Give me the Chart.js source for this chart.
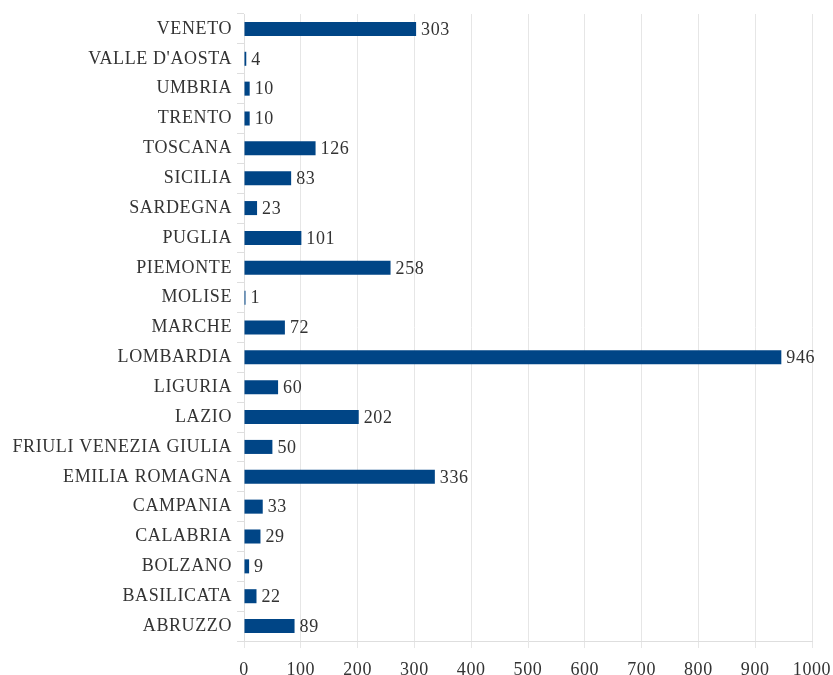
<!DOCTYPE html>
<html lang="it">
<head>
  <meta charset="UTF-8">
  <title>Regioni</title>
  <script src="https://cdn.jsdelivr.net/npm/chart.js"></script>
  <style>
    body { margin: 0; background: #fff; }
    canvas { display: block; }
  </style>
</head>
<body>
  <canvas id="chart" width="833" height="675"></canvas>
  <script>
    const regions = ['VENETO', "VALLE D'AOSTA", 'UMBRIA', 'TRENTO', 'TOSCANA', 'SICILIA', 'SARDEGNA',
      'PUGLIA', 'PIEMONTE', 'MOLISE', 'MARCHE', 'LOMBARDIA', 'LIGURIA', 'LAZIO',
      'FRIULI VENEZIA GIULIA', 'EMILIA ROMAGNA', 'CAMPANIA', 'CALABRIA', 'BOLZANO', 'BASILICATA', 'ABRUZZO'];
    const counts = [303, 4, 10, 10, 126, 83, 23, 101, 258, 1, 72, 946, 60, 202, 50, 336, 33, 29, 9, 22, 89];
    const xTicks = [0, 100, 200, 300, 400, 500, 600, 700, 800, 900, 1000];

    const FONT = { family: '"Liberation Serif", "Times New Roman", serif', size: 18 };
    const TEXT = '#333';

    // slightly wider lettering, like the original rendering
    const spacing = {
      id: 'spacing',
      beforeDraw(chart) { chart.ctx.letterSpacing = '0.6px'; }
    };

    // value next to the end of each bar
    const valueLabels = {
      id: 'valueLabels',
      afterDatasetsDraw(chart) {
        const ctx = chart.ctx;
        const meta = chart.getDatasetMeta(0);
        ctx.save();
        ctx.font = FONT.size + 'px ' + FONT.family;
        ctx.fillStyle = TEXT;
        ctx.textAlign = 'left';
        ctx.textBaseline = 'middle';
        meta.data.forEach((bar, i) => {
          ctx.fillText(String(counts[i]), bar.x + 5, bar.y + 1);
        });
        ctx.restore();
      }
    };

    new Chart(document.getElementById('chart'), {
      type: 'bar',
      data: {
        labels: regions,
        datasets: [{
          data: counts,
          backgroundColor: '#004586',
          barPercentage: 0.47,
          categoryPercentage: 1,
          minBarLength: 1.5
        }]
      },
      options: {
        indexAxis: 'y',
        responsive: false,
        animation: false,
        layout: { padding: { top: 14, right: 21, left: 0, bottom: 0 } },
        plugins: { legend: { display: false }, tooltip: { enabled: false } },
        scales: {
          x: {
            min: 0,
            max: 1000,
            afterBuildTicks: s => { s.ticks = xTicks.map(v => ({ value: v })); },
            afterFit: s => { s.height = 34; s.paddingLeft = 0; s.paddingRight = 0; },
            grid: { color: '#e6e6e6', tickLength: 7 },
            border: { color: '#dedede' },
            ticks: { font: FONT, color: TEXT, padding: 11, callback: v => String(v) }
          },
          y: {
            afterFit: s => { s.width = 244; s.paddingTop = 0; s.paddingBottom = 0; },
            grid: { drawOnChartArea: false, color: '#dedede', tickLength: 7, offset: true },
            border: { color: '#dedede' },
            ticks: { font: FONT, color: TEXT, padding: 5 }
          }
        }
      },
      plugins: [spacing, valueLabels]
    });
  </script>
</body>
</html>
